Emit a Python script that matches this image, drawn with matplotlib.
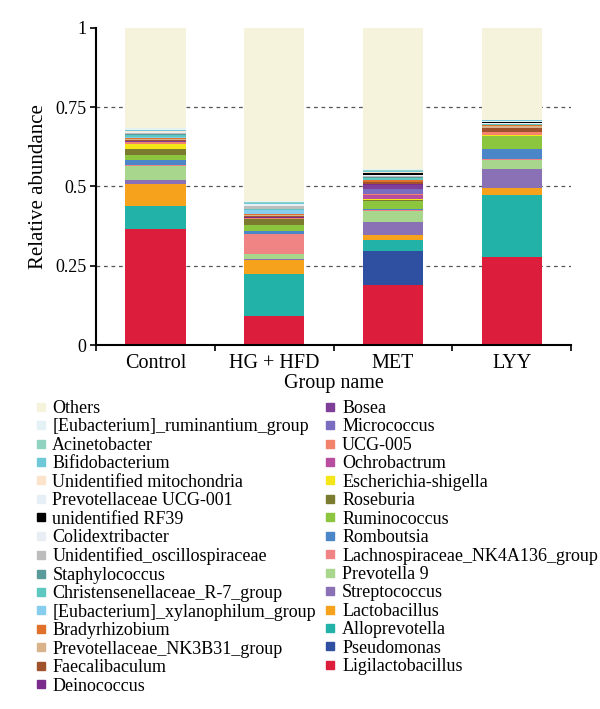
import matplotlib
matplotlib.use("Agg")
import matplotlib.pyplot as plt
from matplotlib.lines import Line2D
import numpy as np

plt.rcParams["font.family"] = ["Liberation Serif", "DejaVu Serif"]

groups = ["Control", "HG + HFD", "MET", "LYY"]

# taxa from the bottom of the stack to the top
taxa = [
    "Ligilactobacillus", "Pseudomonas", "Alloprevotella", "Lactobacillus",
    "Streptococcus", "Prevotella 9", "Lachnospiraceae_NK4A136_group",
    "Romboutsia", "Ruminococcus", "Roseburia", "Escherichia-shigella",
    "Ochrobactrum", "UCG-005", "Micrococcus", "Bosea", "Deinococcus",
    "Faecalibaculum", "Prevotellaceae_NK3B31_group", "Bradyrhizobium",
    "[Eubacterium]_xylanophilum_group", "Christensenellaceae_R-7_group",
    "Staphylococcus", "Unidentified_oscillospiraceae", "Colidextribacter",
    "unidentified RF39", "Prevotellaceae UCG-001", "Unidentified mitochondria",
    "Bifidobacterium", "Acinetobacter", "[Eubacterium]_ruminantium_group",
    "Others",
]

colors = [
    "#dc1e3c", "#2f4fa0", "#22b2a8", "#f7a21c",
    "#8a70b4", "#a8d68c", "#f08484",
    "#4a86c8", "#8cc63f", "#7b7b30", "#f5e61a",
    "#b84ea0", "#f3826c", "#7a6cc0", "#7f3f98", "#7b2b8b",
    "#a0522d", "#d9b48a", "#e0702a",
    "#87cdee", "#5cc8c0",
    "#5b9a9a", "#bdbdbd", "#e8eef4",
    "#000000", "#e6eef6", "#fbe3cc",
    "#6ec8d8", "#8fd3c0", "#e4f2f6",
    "#f5f3dc",
]

# relative abundance per group: Control, HG + HFD, MET, LYY
control = [0.365, 0.000, 0.073, 0.069, 0.012, 0.044, 0.006, 0.013, 0.017, 0.019,
           0.015, 0.001, 0.006, 0.001, 0.001, 0.001, 0.002, 0.003, 0.004, 0.003,
           0.008, 0.003, 0.002, 0.002, 0.001, 0.002, 0.002, 0.002, 0.002, 0.004,
           0.317]
hg_hfd = [0.091, 0.000, 0.132, 0.046, 0.003, 0.015, 0.062, 0.010, 0.019, 0.019,
          0.001, 0.001, 0.002, 0.001, 0.000, 0.001, 0.003, 0.005, 0.002, 0.012,
          0.003, 0.002, 0.008, 0.003, 0.001, 0.002, 0.002, 0.003, 0.002, 0.004,
          0.545]
met = [0.189, 0.108, 0.034, 0.017, 0.040, 0.035, 0.003, 0.002, 0.025, 0.003,
       0.004, 0.012, 0.005, 0.015, 0.012, 0.005, 0.004, 0.002, 0.004, 0.002,
       0.005, 0.004, 0.003, 0.002, 0.006, 0.002, 0.002, 0.003, 0.004, 0.002,
       0.446]
lyy = [0.278, 0.000, 0.196, 0.022, 0.059, 0.029, 0.004, 0.031, 0.039, 0.002,
       0.001, 0.001, 0.009, 0.001, 0.000, 0.001, 0.010, 0.008, 0.001, 0.001,
       0.003, 0.001, 0.001, 0.001, 0.005, 0.001, 0.001, 0.002, 0.001, 0.001,
       0.290]

data = np.array([control, hg_hfd, met, lyy]).T

fig = plt.figure(figsize=(6.0, 7.09), dpi=100)
ax = fig.add_axes([0.16, 0.513, 0.792, 0.448])

x = np.arange(len(groups))
bottom = np.zeros(len(groups))
for name, col, vals in zip(taxa, colors, data):
    ax.bar(x, vals, width=0.51, bottom=bottom, color=col, linewidth=0, zorder=2)
    bottom += vals

ax.set_xlim(-0.5, len(groups) - 0.5)
ax.set_ylim(0, 1)
ax.set_yticks([0, 0.25, 0.5, 0.75, 1])
ax.set_yticklabels(["0", "0.25", "0.5", "0.75", "1"], fontsize=13)
for yv in [0.25, 0.5, 0.75]:
    ax.axhline(yv, color="#555555", linestyle=(0, (3, 3)), linewidth=0.9, zorder=1)

ax.set_xticks(x)
ax.set_xticklabels(groups, fontsize=14.5)
ax.tick_params(axis="x", length=0, pad=6)
ax.set_xticks(np.arange(-0.5, len(groups)), minor=True)
ax.tick_params(axis="x", which="minor", length=4, width=1.2, direction="out")
ax.tick_params(axis="y", length=4, width=1.2, direction="out", pad=3)

for s in ["top", "right"]:
    ax.spines[s].set_visible(False)
for s in ["left", "bottom"]:
    ax.spines[s].set_linewidth(1.5)

ax.set_ylabel("Relative abundance", fontsize=15, labelpad=5)
ax.set_xlabel("Group name", fontsize=14.5, labelpad=1)

handles = [Line2D([], [], marker="s", linestyle="none", markersize=5.5,
                  markerfacecolor=c, markeredgecolor=c)
           for c in colors[::-1]]
fig.legend(handles, taxa[::-1], ncol=2, loc="upper left",
           bbox_to_anchor=(0.045, 0.446), frameon=False, fontsize=13,
           handlelength=0.7, handletextpad=0.3, labelspacing=0.08,
           columnspacing=0.45, borderaxespad=0)

fig.savefig("out.png", dpi=100)
